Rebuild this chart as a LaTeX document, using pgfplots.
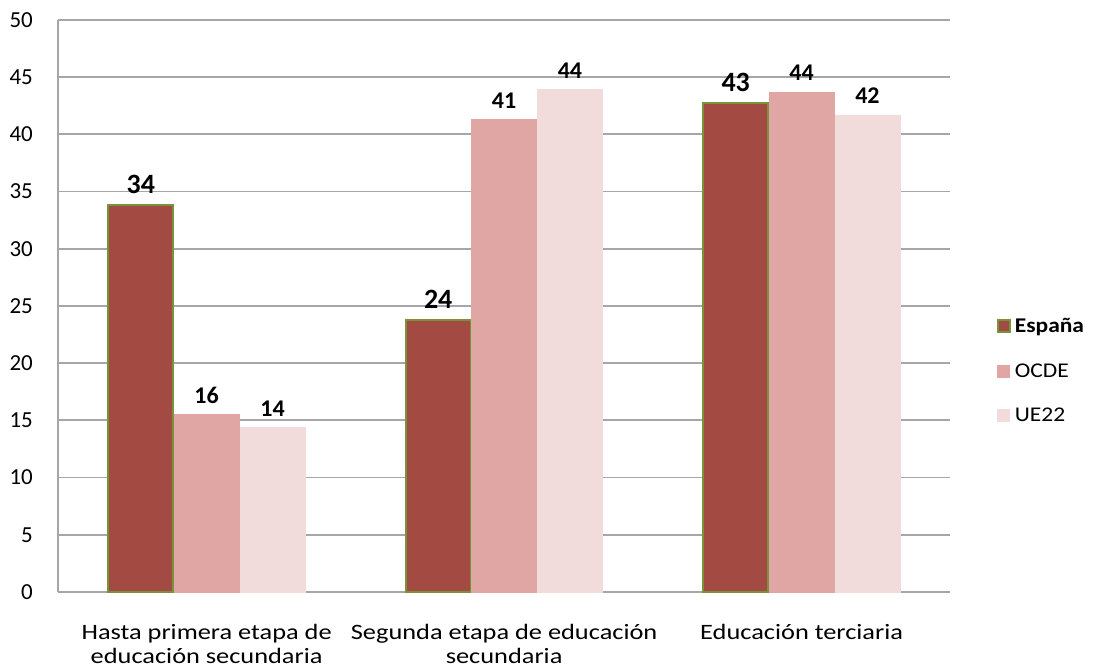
\documentclass[border=0pt]{standalone}
\usepackage{pgfplots}
\pgfplotsset{compat=1.18}
\usepackage{fontspec}
\setmainfont{Carlito}
\newfontfamily\catfont{Carlito}[FakeStretch=1.2]
\newfontfamily\legfont{Carlito}[FakeStretch=1.12]
\definecolor{espana}{HTML}{A34A43}
\definecolor{espanaedge}{HTML}{77933C}
\definecolor{ocde}{HTML}{E0A6A4}
\definecolor{ue}{HTML}{F2DCDB}
\definecolor{gridc}{HTML}{A6A6A6}
\begin{document}
\begin{tikzpicture}
\begin{axis}[
  scale only axis,
  width=447pt, height=286.5pt,
  ymin=0, ymax=50,
  xmin=-0.5, xmax=2.5,
  ytick={0,5,...,50},
  xtick={0,1,2},
  xticklabels={{Hasta primera etapa de\\educación secundaria},{Segunda etapa de educación\\secundaria},{Educación terciaria}},
  xticklabel style={align=center, font=\catfont\fontsize{11}{12}\selectfont, yshift=-12.5pt},
  yticklabel style={font=\fontsize{11.5}{13}\selectfont, xshift=-9pt},
  /pgf/number format/assume math mode=true,
  axis x line*=bottom, axis y line*=left,
  axis line style={gridc, line width=1pt},
  x axis line style={-}, y axis line style={-},
  major tick length=0pt,
  ymajorgrids, grid style={gridc, line width=0.9pt},
  ybar, bar width=32.5pt,
  nodes near coords,
  point meta=explicit symbolic,
  every node near coord/.append style={font=\bfseries\fontsize{12}{13}\selectfont, yshift=2pt},
  legend style={at={(1.045,0.385)}, anchor=west, draw=none, fill=none,
    font=\legfont\fontsize{10.5}{12}\selectfont, row sep=10pt, legend cell align=left},
  legend image code/.code={\draw[#1] (0pt,-2.5pt) rectangle (6pt,3.5pt);},
  clip=false,
]
\addplot[ybar, fill=espana, draw=espanaedge, line width=1pt, bar shift=-33pt,
  every node near coord/.append style={font=\bfseries\fontsize{14}{15}\selectfont}]
  coordinates {(0,33.8)[34] (1,23.8)[24] (2,42.7)[43]};
\addplot[ybar, fill=ocde, draw=ocde, bar shift=0pt]
  coordinates {(0,15.5)[16] (1,41.3)[41] (2,43.7)[44]};
\addplot[ybar, fill=ue, draw=ue, bar shift=33pt]
  coordinates {(0,14.4)[14] (1,43.9)[44] (2,41.7)[42]};
\legend{\textbf{España},OCDE,UE22}
\end{axis}
\path ([shift={(-29pt,-36.5pt)}]current axis.south west) rectangle ([shift={(71pt,10pt)}]current axis.north east);
\end{tikzpicture}
\end{document}
